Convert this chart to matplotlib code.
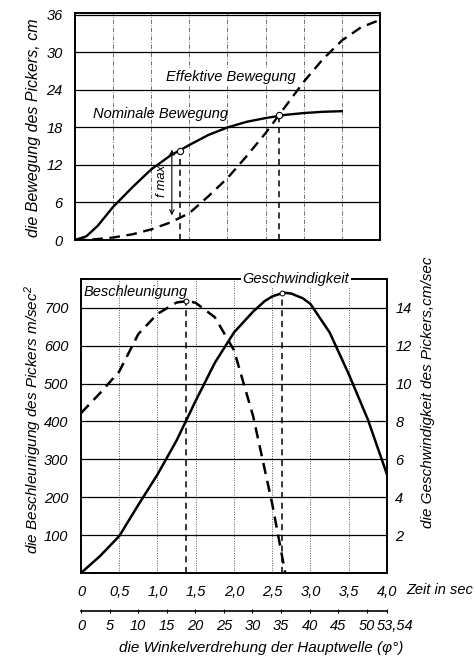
import matplotlib
matplotlib.use("Agg")
import matplotlib.pyplot as plt
from matplotlib.transforms import ScaledTranslation

plt.rcParams['font.family'] = ['Liberation Sans', 'DejaVu Sans']
plt.rcParams['font.style'] = 'italic'
plt.rcParams['mathtext.fontset'] = 'custom'
plt.rcParams['mathtext.it'] = 'Liberation Sans:italic'
plt.rcParams['mathtext.rm'] = 'Liberation Sans:italic'

# ---------------- data ----------------
# top chart: picker movement (cm) vs time (s)
t_nom = [0, 0.15, 0.3, 0.5, 0.75, 1.0, 1.25, 1.5, 1.75, 2.0, 2.25, 2.5, 2.75, 3.0, 3.25, 3.5]
nominal = [0, 0.6, 2.3, 5.3, 8.4, 11.3, 13.5, 15.2, 16.8, 18.0, 18.9, 19.5, 20.0, 20.3, 20.5, 20.6]
t_eff = [0, 0.25, 0.5, 0.75, 1.0, 1.25, 1.5, 1.75, 2.0, 2.25, 2.5, 2.75, 3.0, 3.25, 3.5, 3.75, 4.0]
effective = [0, 0.1, 0.4, 0.9, 1.7, 2.8, 4.3, 7.0, 9.9, 13.4, 17.1, 21.2, 25.3, 28.9, 31.9, 34.0, 35.2]
top_yticks = [0, 6, 12, 18, 24, 30, 36]

# bottom chart: acceleration (m/sec^2, left) and velocity (cm/sec, right)
t_acc = [0, 0.25, 0.5, 0.75, 1.0, 1.25, 1.4, 1.5, 1.75, 2.0, 2.25, 2.5, 2.67]
acceleration = [422, 475, 532, 631, 684, 714, 718, 713, 675, 588, 414, 182, 0]
t_vel = [0, 0.25, 0.5, 0.75, 1.0, 1.25, 1.5, 1.75, 2.0, 2.25, 2.4, 2.5, 2.65, 2.75, 2.9, 3.0, 3.25, 3.5, 3.75, 4.0]
velocity = [0, 0.9, 1.95, 3.6, 5.2, 7.0, 9.1, 11.1, 12.7, 13.8, 14.35, 14.6, 14.8, 14.75, 14.5, 14.2, 12.7, 10.5, 8.1, 5.2]
acc_ticks = [100, 200, 300, 400, 500, 600, 700]
vel_ticks = [2, 4, 6, 8, 10, 12, 14]
time_ticks = [0, 0.5, 1.0, 1.5, 2.0, 2.5, 3.0, 3.5, 4.0]
time_labels = ['0', '0,5', '1,0', '1,5', '2,0', '2,5', '3,0', '3,5', '4,0']
angle_ticks = [0, 5, 10, 15, 20, 25, 30, 35, 40, 45, 50, 53.54]
angle_labels = ['0', '5', '10', '15', '20', '25', '30', '35', '40', '45', '50', '53,54']
angle_max = 53.54
t_max = 4.0

# markers
t_fmax = 1.38
t_cross = 2.68
t_acc_peak = 1.37
t_vel_peak = 2.63

W, H = 477, 660
fig = plt.figure(figsize=(W / 100, H / 100), dpi=100)

def frac(l, t, r, b):
    return [l / W, 1 - b / H, (r - l) / W, (b - t) / H]

dash = (0, (4.5, 2.8))
vgrid = dict(ls=(0, (5, 2, 1, 2)), lw=0.6, color='0.35')
hgrid = dict(ls='-', lw=0.9, color='black')
FS = 10.5

# ---------------- top chart ----------------
ax1 = fig.add_axes(frac(75, 13, 380, 240))
ax1.set_xlim(0, t_max)
ax1.set_ylim(0, 36.3)
ax1.set_xticks(time_ticks)
ax1.set_xticklabels([])
ax1.set_yticks(top_yticks)
ax1.tick_params(length=0, labelsize=FS, pad=9)
ax1.xaxis.grid(True, **vgrid)
ax1.yaxis.grid(True, **hgrid)
for s in ax1.spines.values():
    s.set_linewidth(1.4)

ax1.plot(t_nom, nominal, color='black', lw=1.7)
ax1.plot(t_eff, effective, color='black', lw=1.7, ls=dash)

# drop lines
y_nom_f = 14.3
ax1.plot([t_fmax, t_fmax], [0, y_nom_f], color='black', lw=1.1, ls=(0, (4, 3)))
ax1.plot([t_cross, t_cross], [0, 20.0], color='black', lw=1.1, ls=(0, (4, 3)))
ax1.plot([t_fmax], [y_nom_f], marker='o', mfc='white', mec='black', ms=4.5, mew=0.8)
ax1.plot([t_cross], [20.0], marker='o', mfc='white', mec='black', ms=4.5, mew=0.8)
ax1.annotate('', xy=(1.27, 14.9), xytext=(1.27, 3.5),
             arrowprops=dict(arrowstyle='<->', lw=0.8, color='black',
                             mutation_scale=8))
ax1.text(1.14, 9.5, 'f max', rotation=90, ha='center', va='center', fontsize=9.5)

ax1.text(2.04, 26.1, 'Effektive Bewegung', ha='center', va='center', fontsize=FS,
         bbox=dict(facecolor='white', edgecolor='none', pad=0.5))
ax1.text(1.12, 20.1, 'Nominale Bewegung', ha='center', va='center', fontsize=FS)

fig.text(34 / W, 1 - 128 / H, 'die Bewegung des Pickers, cm', rotation=90,
         ha='center', va='center', fontsize=11.5)

# ---------------- bottom chart ----------------
ax2 = fig.add_axes(frac(81, 279, 387, 573))
ax2.set_xlim(0, t_max)
ax2.set_ylim(0, 776)
ax2.set_xticks(time_ticks)
ax2.set_xticklabels(time_labels)
ax2.set_yticks(acc_ticks)
ax2.tick_params(length=0, labelsize=FS, pad=9)
ax2.xaxis.grid(True, ls=(0, (1, 1.5)), lw=0.7, color='0.35')
ax2.yaxis.grid(True, **hgrid)
for s in ax2.spines.values():
    s.set_linewidth(1.4)

ax3 = ax2.twinx()
ax3.set_ylim(0, 776 / 50)
ax3.set_yticks(vel_ticks)
ax3.tick_params(length=0, labelsize=FS, pad=6)
for s in ax3.spines.values():
    s.set_visible(False)

ax2.plot(t_acc, acceleration, color='black', lw=1.8, ls=dash)
ax3.plot(t_vel, velocity, color='black', lw=1.8)

ax2.plot([t_acc_peak, t_acc_peak], [0, 717], color='black', lw=1.1, ls=(0, (4, 3)))
ax3.plot([t_vel_peak, t_vel_peak], [0, 14.8], color='black', lw=1.1, ls=(0, (4, 3)))
ax2.plot([t_acc_peak], [717], marker='o', mfc='white', mec='black', ms=3.5, mew=0.7)
ax3.plot([t_vel_peak], [14.8], marker='o', mfc='white', mec='black', ms=3.5, mew=0.7)

ax2.text(0.03, 743, 'Beschleunigung', ha='left', va='center', fontsize=FS)
ax2.text(2.81, 776, 'Geschwindigkeit', ha='center', va='center', fontsize=FS,
         bbox=dict(facecolor='white', edgecolor='none', pad=1.0), zorder=5)

fig.text(33 / W, 1 - 420 / H, 'die Beschleunigung des Pickers m/sec$^2$',
         rotation=90, ha='center', va='center', fontsize=11)
fig.text(428 / W, 1 - 392 / H, 'die Geschwindigkeit des Pickers,cm/sec',
         rotation=90, ha='center', va='center', fontsize=11)
fig.text(406 / W, 1 - 590 / H, 'Zeit in sec', ha='left', va='center', fontsize=FS)

# angle scale
sec = ax2.secondary_xaxis((573 - 611) / (573 - 279),
                          functions=(lambda t: t * angle_max / t_max,
                                     lambda a: a * t_max / angle_max))
sec.set_xticks(angle_ticks)
sec.set_xticklabels(angle_labels)
sec.tick_params(direction='inout', length=3, width=0.8, labelsize=FS, pad=4)
sec.spines['bottom'].set_linewidth(1.2)
last = sec.get_xticklabels()[-1]
last.set_transform(last.get_transform() + ScaledTranslation(8 / 100, 0, fig.dpi_scale_trans))
fig.text(261 / W, 1 - 648 / H, 'die Winkelverdrehung der Hauptwelle (φ°)',
         ha='center', va='center', fontsize=11)

fig.savefig('out.png', dpi=100)
